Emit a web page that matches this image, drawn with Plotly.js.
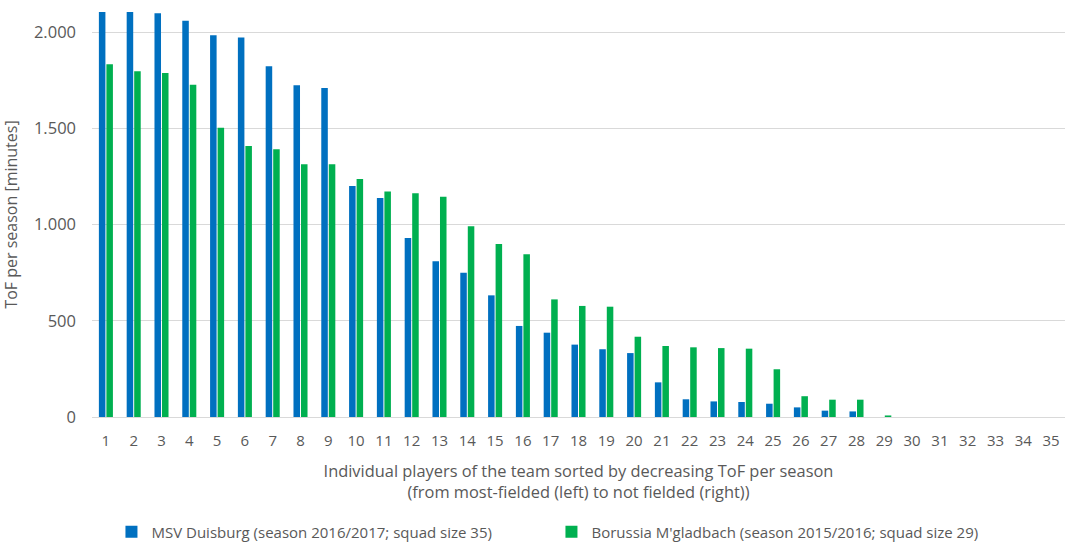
<!DOCTYPE html>
<html>
<head>
<meta charset="utf-8">
<script src="https://cdn.plot.ly/plotly-3.0.1.min.js"></script>
<style>html,body{margin:0;padding:0;background:#fff;}#chart{width:1065px;height:543px;}</style>
</head>
<body>
<div id="chart"></div>
<script>
const players = [1,2,3,4,5,6,7,8,9,10,11,12,13,14,15,16,17,18,19,20,21,22,23,24,25,26,27,28,29,30,31,32,33,34,35];
const duisburg = [2250,2200,2097,2059,1983,1971,1822,1723,1709,1200,1138,930,809,750,632,473,438,376,352,332,180,92,81,78,69,50,33,29,0,0,0,0,0,0,0];
const gladbach = [1832,1796,1787,1726,1503,1408,1391,1313,1313,1236,1172,1162,1144,991,899,845,611,577,573,417,369,362,358,355,248,108,90,90,8,null,null,null,null,null,null];
const seriesNames = ["MSV Duisburg (season 2016/2017; squad size 35)", "Borussia M'gladbach (season 2015/2016; squad size 29)"];
const yTicks = [0,500,1000,1500,2000];
const yTickText = ["0","500","1.000","1.500","2.000"];
const xTitle = "Individual players of the team sorted by decreasing ToF per season<br>(from most-fielded (left) to not fielded (right))";
const yTitle = "ToF per season [minutes]";

const font = "Open Sans, Liberation Sans, sans-serif";
const grey = "#595959";

const traces = [
  {type:'bar', x:players, y:duisburg, name:seriesNames[0], marker:{color:'#0070C0'}},
  {type:'bar', x:players, y:gladbach, name:seriesNames[1], marker:{color:'#00B050'}}
];
const layout = {
  width:1065, height:543,
  margin:{l:92, r:0, t:12, b:126, autoexpand:false},
  paper_bgcolor:'#fff', plot_bgcolor:'#fff',
  font:{family:font, size:15, color:grey},
  barmode:'group', bargap:0.46, bargroupgap:0.13,
  showlegend:true,
  legend:{orientation:'h', x:0.02, xanchor:'left', y:-0.243, yanchor:'top',
          font:{family:font, size:15, color:grey}, entrywidth:395, entrywidthmode:'pixels',
          itemclick:false},
  xaxis:{range:[0.5,35.5], tickmode:'linear', tick0:1, dtick:1, showgrid:false, zeroline:false,
         showline:true, linecolor:'#d9d9d9', ticks:'', tickfont:{size:15, color:grey},
         ticklabelstandoff:10,
         title:{text:xTitle, font:{size:16.4, color:grey}, standoff:16}, automargin:false},
  yaxis:{range:[0,2104], tickmode:'array', tickvals:yTicks, ticktext:yTickText, showgrid:true,
         gridcolor:'#d9d9d9', gridwidth:1, zeroline:false, showline:false, ticks:'',
         ticklabelstandoff:15, tickfont:{size:16.5, color:grey},
         title:{text:yTitle, font:{size:16, color:grey}, standoff:14}, automargin:false}
};
Plotly.newPlot('chart', traces, layout, {displayModeBar:false, staticPlot:true});
</script>
</body>
</html>
